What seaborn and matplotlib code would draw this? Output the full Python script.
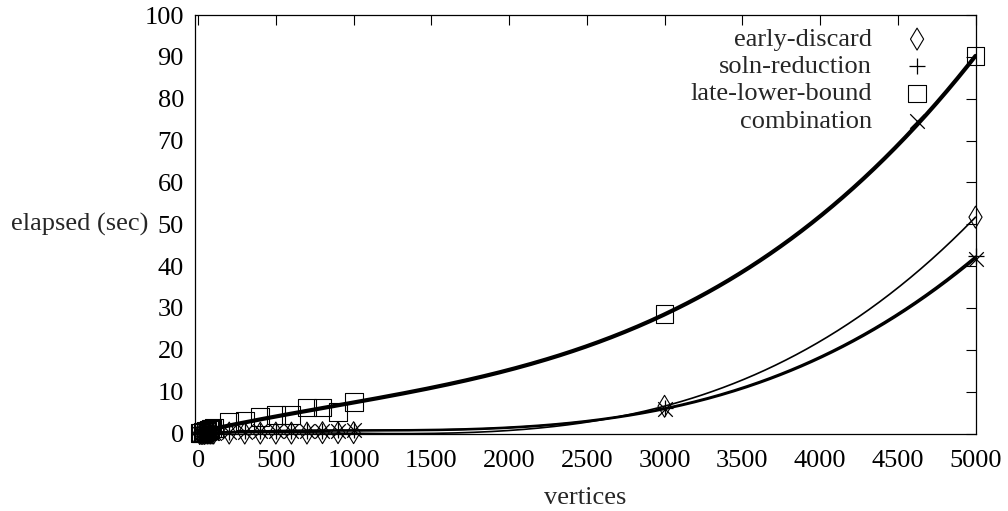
import numpy as np
import pandas as pd
import matplotlib
matplotlib.use("Agg")
import matplotlib.pyplot as plt
import seaborn as sns

# ---- data ----
vertices = [10, 20, 30, 40, 50, 60, 70, 80, 90, 100,
            200, 300, 400, 500, 600, 700, 800, 900, 1000, 3000, 5000]
early_discard = [0.0, 0.0, 0.0, 0.0, 0.1, 0.1, 0.1, 0.1, 0.1, 0.1,
                 0.1, 0.1, 0.1, 0.1, 0.1, 0.1, 0.2, 0.2, 0.2, 6.5, 51.7]
soln_reduction = [0.0, 0.0, 0.0, 0.1, 0.1, 0.1, 0.1, 0.2, 0.2, 0.2,
                  0.4, 0.5, 0.5, 0.6, 0.6, 0.7, 0.7, 0.8, 0.9, 6.0, 42.3]
late_lower_bound = [0.1, 0.2, 0.3, 0.4, 0.5, 0.7, 0.8, 1.0, 1.2, 1.4,
                    2.8, 3.0, 3.9, 4.4, 4.4, 6.2, 6.2, 5.1, 7.5, 28.6, 90.2]
combination = [0.0, 0.0, 0.0, 0.1, 0.1, 0.1, 0.1, 0.1, 0.2, 0.2,
               0.3, 0.4, 0.5, 0.5, 0.6, 0.6, 0.7, 0.7, 0.8, 5.8, 41.8]

series_names = ["early-discard", "soln-reduction", "late-lower-bound", "combination"]
series_values = [early_discard, soln_reduction, late_lower_bound, combination]
x_ticks = list(range(0, 5001, 500))
y_ticks = list(range(0, 101, 10))

# ---- style ----
FS = 19
sns.set_theme(style="white")
plt.rcParams["font.family"] = ["Liberation Serif", "DejaVu Serif"]
plt.rcParams["font.size"] = FS

markers = {"early-discard": "d", "soln-reduction": "+",
           "late-lower-bound": "s", "combination": "x"}
msizes = {"early-discard": 125, "soln-reduction": 130,
          "late-lower-bound": 165, "combination": 110}
fit_lw = {"early-discard": 1.2, "soln-reduction": 1.5,
          "late-lower-bound": 3.0, "combination": 1.5}

fig = plt.figure(figsize=(10.08, 5.11), dpi=100)
ax = fig.add_axes([195 / 1008, 1 - 433.5 / 511, 780.5 / 1008, 418.5 / 511])

xfit = np.linspace(0, 5000, 300)

for name, vals in zip(series_names, series_values):
    coeffs = np.polyfit(vertices, vals, 3)
    sns.lineplot(x=xfit, y=np.polyval(coeffs, xfit), ax=ax, color="black",
                 lw=fit_lw[name], legend=False, sort=False)

for name, vals in zip(series_names, series_values):
    df = pd.DataFrame({"vertices": vertices, "elapsed": vals})
    m = markers[name]
    if m in ("+", "x"):
        sns.scatterplot(data=df, x="vertices", y="elapsed", ax=ax, marker=m,
                        s=msizes[name], color="black", linewidth=0.9,
                        label=name, clip_on=False, zorder=5)
    else:
        sns.scatterplot(data=df, x="vertices", y="elapsed", ax=ax, marker=m,
                        s=msizes[name], facecolor="none", edgecolor="black",
                        linewidth=0.8, label=name, clip_on=False, zorder=5)

ax.set_xlim(-20, 5000)
ax.set_ylim(0, 100)
ax.set_xticks(x_ticks)
ax.set_yticks(y_ticks)
ax.tick_params(axis="both", direction="in", length=7, width=0.8,
               top=True, right=True, labelsize=FS, colors="black")
ax.tick_params(axis="x", pad=12)
ax.tick_params(axis="y", pad=8)
for sp in ax.spines.values():
    sp.set_visible(True)
    sp.set_color("black")
    sp.set_linewidth(0.9)

ax.set_xlabel("vertices", fontsize=FS, labelpad=11)
ax.set_ylabel("elapsed (sec)", fontsize=FS, rotation=0, ha="right", va="center")
ax.yaxis.set_label_coords(-0.060, 0.5)

leg = ax.legend(loc="upper right", bbox_to_anchor=(954 / 1008, 1 - 17 / 511),
                bbox_transform=fig.transFigure, frameon=False, markerfirst=False,
                handletextpad=0.7, handlelength=2.0, labelspacing=0.14,
                borderaxespad=0, fontsize=FS)

fig.savefig("out.png", dpi=100)
